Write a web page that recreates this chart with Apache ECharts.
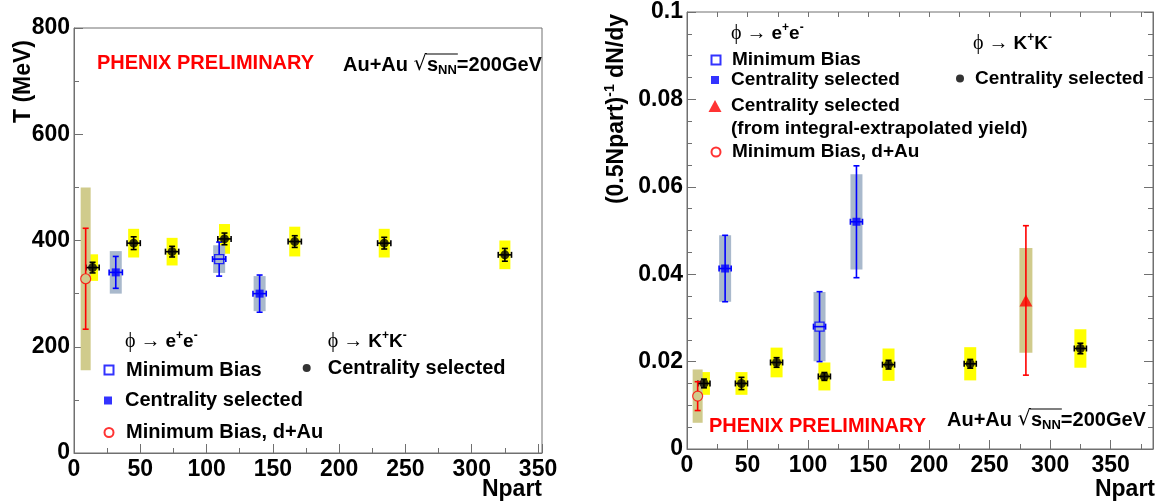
<!DOCTYPE html>
<html>
<head>
<meta charset="utf-8">
<script src="https://cdn.jsdelivr.net/npm/echarts@6/dist/echarts.min.js"></script>
<style>
  html, body { margin: 0; padding: 0; background: #fff; }
  #main { width: 1163px; height: 503px; }
</style>
</head>
<body>
<div id="main"></div>
<script>
// Npart of each point (same centrality classes in both panels)
var kkNpart = [14, 45, 74, 113.5, 166.5, 234, 325];
var kkNpartErr = [5, 5, 5, 5, 5, 5, 5];
var eeMbNpart = [109.5];
var eeMbNpartErr = [5];
var eeCentNpart = [31.5, 140];
var eeCentNpartErr = [5, 5];
var eeExtrapNpart = [280];
var dAuNpart = [8.8];

// left panel: inverse slope T (MeV)
var kkT = [349, 395, 379, 403, 398, 395, 373];
var kkTStat = [10, 12, 10, 11, 11, 11, 12];
var kkTSys = [25, 27, 26, 28, 28, 27, 27];
var eeMbT = [365];
var eeMbTStat = [32];
var eeMbTSys = [26];
var eeCentT = [340, 300];
var eeCentTStat = [30, 35];
var eeCentTSys = [40, 33];
var dAuT = [328];
var dAuTStat = [95];
var dAuTSys = [172];

// right panel: (0.5 Npart)^-1 dN/dy
var kkY = [0.0150, 0.0150, 0.0198, 0.0166, 0.0193, 0.0195, 0.0230];
var kkYStat = [0.0010, 0.0014, 0.0011, 0.0009, 0.0010, 0.0010, 0.0012];
var kkYSys = [0.0026, 0.0026, 0.0034, 0.0032, 0.0037, 0.0038, 0.0044];
var eeMbY = [0.0280];
var eeMbYStat = [0.0080];
var eeMbYSys = [0.0079];
var eeCentY = [0.0413, 0.0520];
var eeCentYStat = [0.0076, 0.0128];
var eeCentYSys = [0.0076, 0.0109];
var eeExtrapY = [0.0340];
var eeExtrapYStat = [0.0171];
var eeExtrapYSys = [0.0120];
var dAuY = [0.0121];
var dAuYStat = [0.0033];
var dAuYSys = [0.0061];

var FONT = '"Liberation Sans", Arial, sans-serif';
var AXIS = '#707070';
var YELLOW = '#ffff00';
var BLUEBOX = '#a9b9cc';
var OLIVE = '#d0cb8c';

function rows(x, y, ey, ex) {
  return x.map(function (v, i) {
    return [v, y[i], ey[i], ex ? ex[i] : 0];
  });
}

// systematic error box
function boxSeries(xi, yi, data, color, halfW) {
  return {
    type: 'custom', xAxisIndex: xi, yAxisIndex: yi, z: 2, silent: true,
    encode: { x: 0, y: 1 },
    data: data,
    renderItem: function (params, api) {
      var x = api.value(0), y = api.value(1), s = api.value(2);
      var t = api.coord([x, y + s]), b = api.coord([x, y - s]);
      return {
        type: 'rect',
        shape: { x: t[0] - halfW, y: t[1], width: halfW * 2, height: b[1] - t[1] },
        style: { fill: color }
      };
    }
  };
}

// statistical error bars with caps, gap left for the marker
function errSeries(xi, yi, data, color, gap) {
  return {
    type: 'custom', xAxisIndex: xi, yAxisIndex: yi, z: 3, silent: true,
    encode: { x: 0, y: 1 },
    data: data,
    renderItem: function (params, api) {
      var x = api.value(0), y = api.value(1), ey = api.value(2), ex = api.value(3);
      var c = api.coord([x, y]);
      var t = api.coord([x, y + ey]), b = api.coord([x, y - ey]);
      var st = { stroke: color, lineWidth: 1.6 };
      var cap = 3;
      var kids = [
        { type: 'line', shape: { x1: c[0], y1: t[1], x2: c[0], y2: c[1] - gap }, style: st },
        { type: 'line', shape: { x1: c[0], y1: c[1] + gap, x2: c[0], y2: b[1] }, style: st },
        { type: 'line', shape: { x1: c[0] - cap, y1: t[1], x2: c[0] + cap, y2: t[1] }, style: st },
        { type: 'line', shape: { x1: c[0] - cap, y1: b[1], x2: c[0] + cap, y2: b[1] }, style: st }
      ];
      if (ex > 0) {
        var l = api.coord([x - ex, y]), r = api.coord([x + ex, y]);
        kids.push(
          { type: 'line', shape: { x1: l[0], y1: c[1], x2: r[0], y2: c[1] }, style: st },
          { type: 'line', shape: { x1: l[0], y1: c[1] - cap, x2: l[0], y2: c[1] + cap }, style: st },
          { type: 'line', shape: { x1: r[0], y1: c[1] - cap, x2: r[0], y2: c[1] + cap }, style: st }
        );
      }
      return { type: 'group', children: kids };
    }
  };
}

function markSeries(name, xi, yi, x, y, symbol, size, style) {
  return {
    name: name, type: 'scatter', xAxisIndex: xi, yAxisIndex: yi, z: 4, silent: true,
    symbol: symbol, symbolSize: size, itemStyle: style,
    data: x.map(function (v, i) { return [v, y[i]]; })
  };
}

var openBlue = { color: 'rgba(0,0,0,0)', borderColor: '#0000ff', borderWidth: 1.4 };
var fillBlue = { color: '#0000ff' };
var openRed = { color: 'rgba(0,0,0,0)', borderColor: '#ff0000', borderWidth: 1.2 };
var fillRed = { color: '#ff0000' };
var fillBlack = { color: '#000000' };

var tickFont = { fontFamily: FONT, fontWeight: 'bold', fontSize: 23, color: '#000' };

function xAxisMain(grid, max, pos, showLabel) {
  return {
    type: 'value', gridIndex: grid, min: 0, max: max, interval: 50, position: pos,
    axisLine: { show: true, onZero: false, lineStyle: { color: AXIS } },
    axisTick: { inside: true, length: 9, lineStyle: { color: AXIS } },
    splitLine: { show: false },
    axisLabel: Object.assign({
      show: showLabel, margin: 5,
      formatter: function (v) { return v % 50 === 0 ? String(v) : ''; }
    }, tickFont)
  };
}
function xAxisMinor(grid, max, pos) {
  return {
    type: 'value', gridIndex: grid, min: 0, max: max, interval: 25, position: pos,
    axisLine: { show: false, onZero: false },
    axisTick: { inside: true, length: 5, lineStyle: { color: AXIS } },
    splitLine: { show: false },
    axisLabel: { show: false }
  };
}
function yAxisOf(grid, max, interval, minor, pos, showLabel) {
  return {
    type: 'value', gridIndex: grid, min: 0, max: max, interval: interval, position: pos,
    axisLine: { show: true, onZero: false, lineStyle: { color: AXIS } },
    axisTick: { inside: true, length: 9, lineStyle: { color: AXIS } },
    minorTick: { show: true, splitNumber: minor, length: 5, lineStyle: { color: AXIS } },
    splitLine: { show: false },
    axisLabel: Object.assign({ show: showLabel, margin: 4 }, tickFont)
  };
}

function legendItem(name, label, cx, cy, textX, w, h, fs) {
  return {
    data: [name], left: cx - w / 2, top: cy - 11, padding: 0,
    itemWidth: w, itemHeight: h, selectedMode: false,
    formatter: function () { return label; },
    textStyle: {
      fontFamily: FONT, fontWeight: 'bold', fontSize: fs, color: '#000', lineHeight: 22,
      padding: [0, 0, 0, textX - (cx + w / 2 + 5)]
    }
  };
}

var richText = {
  b: { fontFamily: FONT, fontWeight: 'bold', fontSize: 19, fill: '#000', lineHeight: 24 },
  a: { fontFamily: FONT, fontWeight: 'bold', fontSize: 20, fill: '#000', lineHeight: 24 },
  s: { fontFamily: '"Liberation Serif", serif', fontSize: 20, fill: '#000', lineHeight: 24 },
  p: { fontFamily: FONT, fontWeight: 'bold', fontSize: 12, fill: '#000', lineHeight: 24, verticalAlign: 'top' },
  r: { fontFamily: '"DejaVu Sans", sans-serif', fontSize: 21, fill: '#000', lineHeight: 24 },
  n: { fontFamily: FONT, fontWeight: 'bold', fontSize: 13, fill: '#000', lineHeight: 24, verticalAlign: 'bottom' }
};

function textEl(x, y, text, opts) {
  return {
    type: 'text', x: x, y: y, rotation: opts && opts.rotation || 0, silent: true,
    style: Object.assign({
      text: text, fill: '#000', align: 'left', verticalAlign: 'middle',
      font: 'bold 19px ' + FONT, rich: richText
    }, opts && opts.style)
  };
}

// overline of the square root over s_NN, placed from measured text widths
var measureCtx = document.createElement('canvas').getContext('2d');
function textW(str, font) {
  measureCtx.font = font;
  return measureCtx.measureText(str).width;
}
function sqrtBar(x0, cy) {
  var a = x0 + textW('Au+Au ', 'bold 20px ' + FONT) + textW('\u221a', '21px "DejaVu Sans"') - 1;
  var b = a + textW('s', 'bold 20px ' + FONT) + textW('NN', 'bold 13px ' + FONT) + 2;
  return {
    type: 'line', silent: true,
    shape: { x1: a, y1: cy - 11, x2: b, y2: cy - 11 },
    style: { stroke: '#000', lineWidth: 1.2 }
  };
}

var eeHeader = '{s|\u03d5 \u2192 }{b|e}{p|+}{b|e}{p|-}';
var kkHeader = '{s|\u03d5 \u2192 }{b|K}{p|+}{b|K}{p|-}';
var auau = '{a|Au+Au }{r|\u221a}{a|s}{n|NN}{a|=200GeV}';
var red = { font: 'bold 20px ' + FONT, fill: '#ff0000' };

var chart = echarts.init(document.getElementById('main'), null, { renderer: 'canvas' });

chart.setOption({
  backgroundColor: '#fff',
  animation: false,
  grid: [
    { left: 74, top: 28, width: 468, height: 425, show: true, borderColor: AXIS, borderWidth: 1 },
    { left: 687, top: 12, width: 466, height: 437, show: true, borderColor: AXIS, borderWidth: 1 }
  ],
  xAxis: [
    xAxisMain(0, 353, 'bottom', true),
    xAxisMinor(0, 353, 'bottom'),
    xAxisMain(1, 385, 'bottom', true),
    xAxisMinor(1, 385, 'bottom'),
    xAxisMinor(1, 385, 'top')
  ],
  yAxis: [
    yAxisOf(0, 800, 200, 2, 'left', true),
    yAxisOf(1, 0.1, 0.02, 4, 'left', true),
    yAxisOf(1, 0.1, 0.02, 4, 'right', false)
  ],
  legend: [
    legendItem('eeMbL', 'Minimum Bias', 108, 370, 125, 9, 9, 20),
    legendItem('eeCentL', 'Centrality selected', 108, 400.5, 125, 8, 8, 20),
    legendItem('dAuL', 'Minimum Bias, d+Au', 108, 432.5, 125, 9, 9, 20),
    legendItem('kkL', 'Centrality selected', 306.7, 368, 327.7, 8, 8, 20),
    legendItem('eeMbR', 'Minimum Bias', 715, 60, 731, 9, 9, 19),
    legendItem('eeCentR', 'Centrality selected', 715, 80, 731, 8, 8, 19),
    legendItem('eeExtrapR', 'Centrality selected', 715, 106, 731, 13, 12, 19),
    legendItem('dAuR', 'Minimum Bias, d+Au', 715, 152, 731, 9, 9, 19),
    legendItem('kkR', 'Centrality selected', 960, 78.5, 975, 8, 8, 19)
  ],
  graphic: [
    textEl(97, 63, 'PHENIX PRELIMINARY', { style: red }),
    textEl(343, 65, auau),
    sqrtBar(343, 65),
    textEl(125, 342, eeHeader),
    textEl(327.7, 342, kkHeader),
    textEl(24, 40, 'T (MeV)', { rotation: Math.PI / 2, style: { align: 'right', font: 'bold 23px ' + FONT } }),
    textEl(542, 490, 'Npart', { style: { align: 'right', font: 'bold 23px ' + FONT } }),
    textEl(731, 34, eeHeader),
    textEl(973, 44, kkHeader),
    textEl(731, 129, '(from integral-extrapolated yield)'),
    textEl(709, 426, 'PHENIX PRELIMINARY', { style: red }),
    textEl(947, 420, auau),
    sqrtBar(947, 420),
    textEl(617, 14, '{t|(0.5Npart)}{u|-1}{t| dN/dy}', {
      rotation: Math.PI / 2,
      style: {
        align: 'right',
        rich: {
          t: { fontFamily: FONT, fontWeight: 'bold', fontSize: 23, fill: '#000', lineHeight: 28 },
          u: { fontFamily: FONT, fontWeight: 'bold', fontSize: 14, fill: '#000', lineHeight: 28, verticalAlign: 'top' }
        }
      }
    }),
    textEl(1155, 490, 'Npart', { style: { align: 'right', font: 'bold 23px ' + FONT } })
  ],
  series: [
    // left panel
    boxSeries(0, 0, rows(kkNpart, kkT, kkTSys), YELLOW, 5.5),
    boxSeries(0, 0, rows(eeMbNpart, eeMbT, eeMbTSys), BLUEBOX, 6),
    boxSeries(0, 0, rows(eeCentNpart, eeCentT, eeCentTSys), BLUEBOX, 6),
    boxSeries(0, 0, rows(dAuNpart, dAuT, dAuTSys), OLIVE, 5),
    errSeries(0, 0, rows(kkNpart, kkT, kkTStat, kkNpartErr), '#000', 0),
    errSeries(0, 0, rows(eeMbNpart, eeMbT, eeMbTStat, eeMbNpartErr), '#0000ff', 4.5),
    errSeries(0, 0, rows(eeCentNpart, eeCentT, eeCentTStat, eeCentNpartErr), '#0000ff', 0),
    errSeries(0, 0, rows(dAuNpart, dAuT, dAuTStat), '#ff0000', 5),
    markSeries('kkL', 0, 0, kkNpart, kkT, 'circle', 9, fillBlack),
    markSeries('eeMbL', 0, 0, eeMbNpart, eeMbT, 'rect', 9, openBlue),
    markSeries('eeCentL', 0, 0, eeCentNpart, eeCentT, 'rect', 8, fillBlue),
    markSeries('dAuL', 0, 0, dAuNpart, dAuT, 'circle', 10, openRed),
    // right panel
    boxSeries(2, 1, rows(kkNpart, kkY, kkYSys), YELLOW, 6),
    boxSeries(2, 1, rows(eeMbNpart, eeMbY, eeMbYSys), BLUEBOX, 6),
    boxSeries(2, 1, rows(eeCentNpart, eeCentY, eeCentYSys), BLUEBOX, 6),
    boxSeries(2, 1, rows(eeExtrapNpart, eeExtrapY, eeExtrapYSys), OLIVE, 6.5),
    boxSeries(2, 1, rows(dAuNpart, dAuY, dAuYSys), OLIVE, 5),
    errSeries(2, 1, rows(kkNpart, kkY, kkYStat, kkNpartErr), '#000', 0),
    errSeries(2, 1, rows(eeMbNpart, eeMbY, eeMbYStat, eeMbNpartErr), '#0000ff', 4.5),
    errSeries(2, 1, rows(eeCentNpart, eeCentY, eeCentYStat, eeCentNpartErr), '#0000ff', 0),
    errSeries(2, 1, rows(eeExtrapNpart, eeExtrapY, eeExtrapYStat), '#ff0000', 0),
    errSeries(2, 1, rows(dAuNpart, dAuY, dAuYStat), '#ff0000', 5),
    markSeries('kkR', 2, 1, kkNpart, kkY, 'circle', 9, fillBlack),
    markSeries('eeMbR', 2, 1, eeMbNpart, eeMbY, 'rect', 9, openBlue),
    markSeries('eeCentR', 2, 1, eeCentNpart, eeCentY, 'rect', 8, fillBlue),
    markSeries('eeExtrapR', 2, 1, eeExtrapNpart, eeExtrapY, 'triangle', [13, 12], fillRed),
    markSeries('dAuR', 2, 1, dAuNpart, dAuY, 'circle', 10, openRed)
  ]
});
</script>
</body>
</html>
